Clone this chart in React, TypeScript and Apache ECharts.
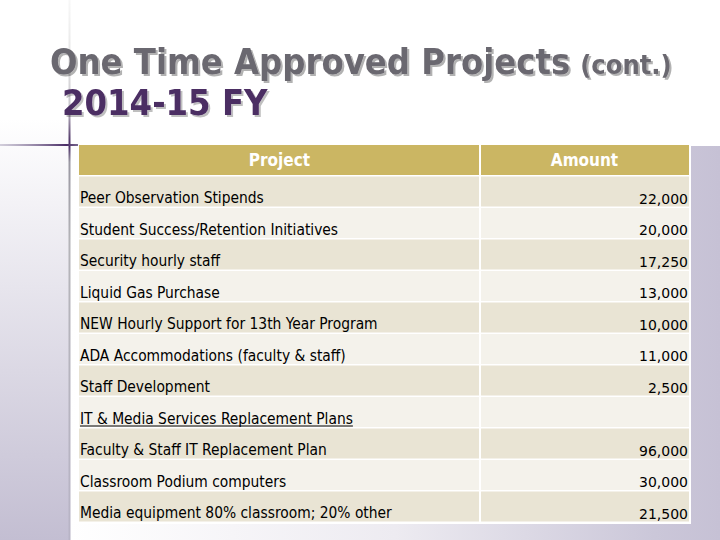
import React, { useEffect, useRef } from "react";
import * as echarts from "echarts";

const titleMain = "One Time Approved Projects";
const titleCont = "(cont.)";
const titleYear = "2014-15 FY";
const headers = ["Project", "Amount"];
const projects = [
  "Peer Observation Stipends",
  "Student Success/Retention Initiatives",
  "Security hourly staff",
  "Liquid Gas Purchase",
  "NEW Hourly Support for 13th Year Program",
  "ADA Accommodations (faculty & staff)",
  "Staff Development",
  "IT & Media Services Replacement Plans",
  "Faculty & Staff IT Replacement Plan",
  "Classroom Podium computers",
  "Media equipment 80% classroom; 20% other",
];
const amounts: (number | null)[] = [22000, 20000, 17250, 13000, 10000, 11000, 2500, null, 96000, 30000, 21500];
const sectionRows = [7];

const LABEL_FONT = '15.4px "DejaVu Sans Condensed", "DejaVu Sans", sans-serif';
const NUM_FONT = '14px "DejaVu Sans", sans-serif';
const HEAD_FONT = 'bold 17px "DejaVu Sans Condensed", "DejaVu Sans", sans-serif';
const TITLE_FONT = 'bold 36px "DejaVu Sans Condensed", "DejaVu Sans", sans-serif';
const CONT_FONT = 'bold 27px "DejaVu Sans Condensed", "DejaVu Sans", sans-serif';

function measure(text: string, font: string): number {
  const ctx = document.createElement("canvas").getContext("2d");
  if (!ctx) return text.length * 7;
  ctx.font = font;
  return ctx.measureText(text).width;
}

const shadow = (a: number) => ({
  textShadowColor: `rgba(0,0,0,${a})`,
  textShadowOffsetX: 2,
  textShadowOffsetY: 2,
  textShadowBlur: 1,
  shadowColor: `rgba(0,0,0,${a})`,
  shadowOffsetX: 2,
  shadowOffsetY: 2,
  shadowBlur: 1,
});

export default function App() {
  const ref = useRef<HTMLDivElement>(null);
  useEffect(() => {
    document.body.style.margin = "0";
    if (!ref.current) return;
    const chart = echarts.init(ref.current, null, { renderer: "svg" });
    const rowKeys = [headers[0], ...projects];
    const fmt = (v: number | null) => (v == null ? "" : v.toLocaleString("en-US"));
    const mainW = measure(titleMain, TITLE_FONT);

    const renderItem = (params: any, api: any) => {
      const idx = api.value(1) as number;
      const c = api.coord([0, idx]);
      const bandH = api.size([0, 1])[1];
      const top = c[1] - bandH / 2;
      const left = params.coordSys.x;
      const right = params.coordSys.x + params.coordSys.width;
      const split = api.coord([0.6574, idx])[0];
      const rh = bandH - 1.5;
      const children: any[] = [];
      if (idx === 0) {
        const gold = "#cbb663";
        children.push({ type: "rect", shape: { x: left, y: top + 1, width: split - 1 - left, height: rh }, style: { fill: gold } });
        children.push({ type: "rect", shape: { x: split + 1, y: top + 1, width: right - split - 1, height: rh }, style: { fill: gold } });
        children.push({ type: "text", style: { text: headers[0], x: (left + split) / 2, y: top + 16, align: "center", verticalAlign: "middle", font: HEAD_FONT, fill: "#ffffff" } });
        children.push({ type: "text", style: { text: headers[1], x: (split + right) / 2, y: top + 16, align: "center", verticalAlign: "middle", font: HEAD_FONT, fill: "#ffffff" } });
      } else {
        const r = idx - 1;
        const fill = r % 2 === 0 ? "#e9e4d4" : "#f4f2eb";
        children.push({ type: "rect", shape: { x: left, y: top + 1, width: split - 1 - left, height: rh }, style: { fill } });
        children.push({ type: "rect", shape: { x: split + 1, y: top + 1, width: right - split - 1, height: rh }, style: { fill } });
        const ty = top + 22.5;
        children.push({ type: "text", style: { text: projects[r], x: left + 1, y: ty, align: "left", verticalAlign: "middle", font: LABEL_FONT, fill: "#000000" } });
        if (sectionRows.includes(r)) {
          const w = measure(projects[r], LABEL_FONT);
          children.push({ type: "line", shape: { x1: left + 1, y1: ty + 7.5, x2: left + 1 + w, y2: ty + 7.5 }, style: { stroke: "#000000", lineWidth: 1 } });
        }
        const t = fmt(amounts[r]);
        if (t) {
          children.push({ type: "text", style: { text: t, x: right - 1, y: ty + 0.5, align: "right", verticalAlign: "middle", font: NUM_FONT, fill: "#000000" } });
        }
      }
      return { type: "group", children };
    };

    chart.setOption({
      animation: false,
      grid: { left: 79, right: 31, top: 144, bottom: 18 },
      xAxis: { type: "value", min: 0, max: 1, show: false },
      yAxis: { type: "category", data: rowKeys, inverse: true, show: false },
      graphic: [
        {
          type: "rect",
          shape: { x: 0, y: 0, width: 69, height: 540 },
          style: {
            fill: new echarts.graphic.LinearGradient(0, 0, 0, 1, [
              { offset: 0, color: "#ffffff" },
              { offset: 0.22, color: "#ffffff" },
              { offset: 1, color: "#c3bed2" },
            ]),
          },
          silent: true,
        },
        {
          type: "rect",
          shape: { x: 70, y: 146, width: 650, height: 394 },
          style: {
            fill: new echarts.graphic.LinearGradient(0, 0, 1, 0, [
              { offset: 0, color: "#ffffff" },
              { offset: 0.5, color: "#edebf1" },
              { offset: 0.9, color: "#cbc7d9" },
              { offset: 1, color: "#c6c1d5" },
            ]),
          },
          silent: true,
        },
        {
          type: "rect",
          shape: { x: 76, y: 143, width: 615, height: 381 },
          style: { fill: "#ffffff" },
          silent: true,
        },
        {
          type: "line",
          shape: { x1: 69.5, y1: 0, x2: 69.5, y2: 540 },
          style: {
            lineWidth: 2,
            stroke: new echarts.graphic.LinearGradient(0, 0, 0, 540, [
              { offset: 0, color: "rgba(230,230,230,0.3)" },
              { offset: 0.12, color: "#e2e2e2" },
              { offset: 0.2, color: "#c8c6cc" },
              { offset: 0.255, color: "#5a4270" },
              { offset: 0.27, color: "#4a2d66" },
              { offset: 0.3, color: "#9a98a2" },
              { offset: 0.45, color: "#b4b4b8" },
              { offset: 1, color: "#b8b4c6" },
            ], true),
          },
          silent: true,
        },
        {
          type: "line",
          shape: { x1: 0, y1: 145, x2: 78, y2: 145 },
          style: {
            lineWidth: 2,
            stroke: new echarts.graphic.LinearGradient(0, 0, 78, 0, [
              { offset: 0, color: "rgba(150,140,170,0.4)" },
              { offset: 0.85, color: "#4a2d66" },
              { offset: 1, color: "#7a6a90" },
            ], true),
          },
          silent: true,
        },
        {
          type: "text",
          style: {
            text: titleMain, x: 50, y: 61, align: "left", verticalAlign: "middle", font: TITLE_FONT, fill: "#6b6870",
            ...shadow(0.3),
          },
          silent: true,
        },
        {
          type: "text",
          style: {
            text: titleCont, x: 50 + mainW + 10, y: 64, align: "left", verticalAlign: "middle", font: CONT_FONT, fill: "#6b6870",
            ...shadow(0.3),
          },
          silent: true,
        },
        {
          type: "text",
          style: {
            text: titleYear, x: 62, y: 102, align: "left", verticalAlign: "middle", font: TITLE_FONT, fill: "#4b2d63",
            ...shadow(0.25),
          },
          silent: true,
        },
      ],
      series: [
        {
          type: "custom",
          renderItem,
          data: rowKeys.map((_, i) => [0, i]),
          encode: { x: 0, y: 1 },
          z: 5,
          silent: true,
        },
      ],
    });
    return () => chart.dispose();
  }, []);
  return <div ref={ref} style={{ position: "absolute", left: 0, top: 0, width: 720, height: 540 }} />;
}
